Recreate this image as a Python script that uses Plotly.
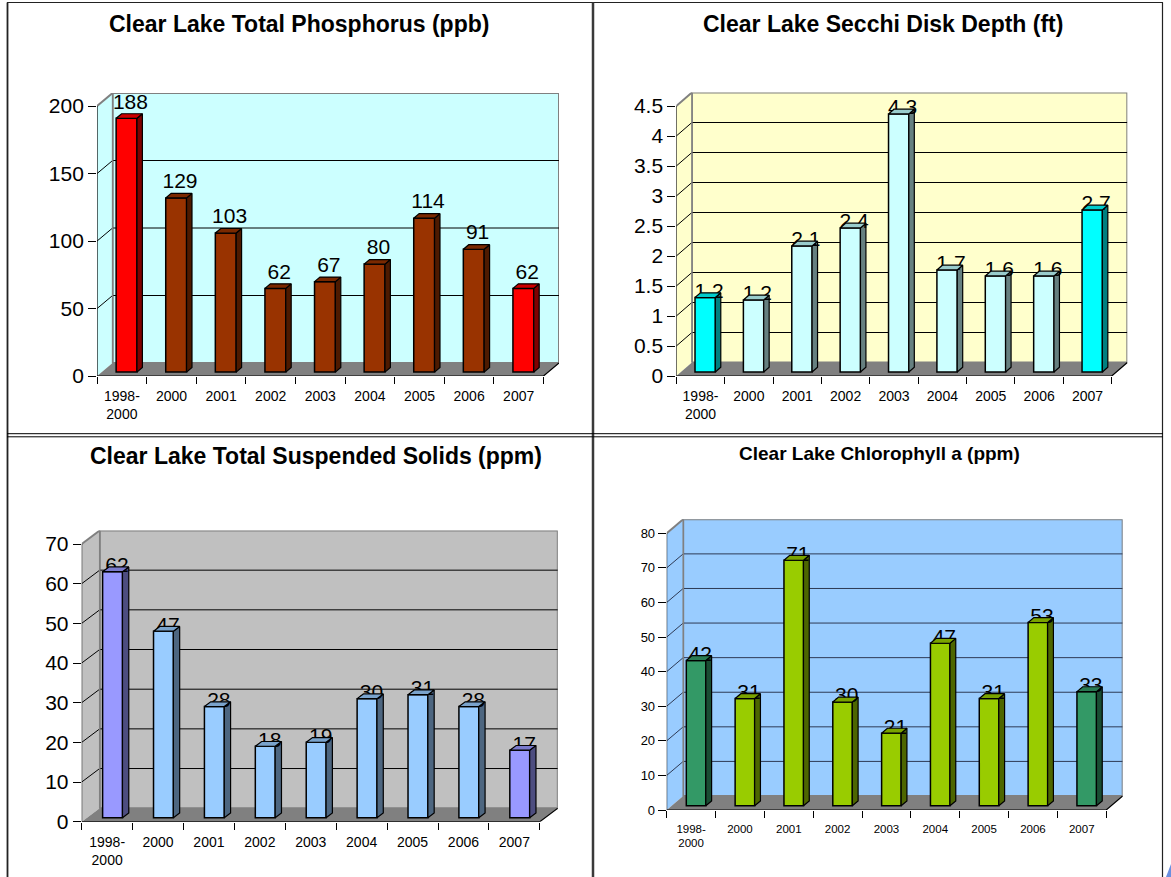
import plotly.graph_objects as go

W, H = 1171, 877      # reference frame (all paper fractions are relative to this)
FIG_H = 888           # rendered page height that the photographer maps onto 877 rows

# ---------------- data ----------------
categories = ["1998-<br>2000", "2000", "2001", "2002", "2003", "2004", "2005", "2006", "2007"]
highlight = [True, False, False, False, False, False, False, False, True]

phosphorus = [188, 129, 103, 62, 67, 80, 114, 91, 62]
secchi = [1.24, 1.2, 2.1, 2.4, 4.3, 1.7, 1.6, 1.6, 2.7]
solids = [62, 47, 28, 18, 19, 30, 31, 28, 17]
chlorophyll = [42, 31, 71, 30, 21, 47, 31, 53, 33]

phos_ticks = [0, 50, 100, 150, 200]
secchi_ticks = [0, 0.5, 1, 1.5, 2, 2.5, 3, 3.5, 4, 4.5]
solids_ticks = [0, 10, 20, 30, 40, 50, 60, 70]
chl_ticks = [0, 10, 20, 30, 40, 50, 60, 70, 80]

titles = [
    "Clear Lake Total Phosphorus (ppb)",
    "Clear Lake Secchi Disk Depth (ft)",
    "Clear Lake Total Suspended Solids (ppm)",
    "Clear Lake Chlorophyll a (ppm)",
]

# ---------------- styles / geometry (pixels) ----------------
FONT = "Liberation Sans, Arial, sans-serif"
F0, F1 = 0.30, 0.65  # bar depth span within floor

panels = [
    dict(values=phosphorus, ticks=phos_ticks, fmt="{:.0f}", title=titles[0],
         left=97.1, catw=49.6, dx=15.5, y0=376.0, ytop=106.0, dy=13.0,
         wall="#CCFFFF", grid="#000000",
         front=("#993300", "#FF0000"), side=("#4D1A00", "#800000"), top=("#7A2900", "#CC0000"),
         barw=0.42, title_xy=(299, 24), title_size=23, ytick_size=21, xtick_size=14,
         label_size=21, label_pos="top center"),
    dict(values=secchi, ticks=secchi_ticks, fmt="{:.1f}", title=titles[1],
         left=676.3, catw=48.38, dx=15.6, y0=376.0, ytop=106.0, dy=13.5,
         wall="#FFFFCC", grid="#000000",
         front=("#CCFFFF", "#00FFFF"), side=("#668080", "#008080"), top=("#99CCCC", "#00CCCC"),
         barw=0.42, title_xy=(882.7, 24), title_size=23, ytick_size=21, xtick_size=14,
         label_size=21, label_pos="middle center"),
    dict(values=solids, ticks=solids_ticks, fmt="{:.0f}", title=titles[2],
         left=81.7, catw=50.9, dx=18.0, y0=821.7, ytop=544.0, dy=13.5,
         wall="#C0C0C0", grid="#000000",
         front=("#99CCFF", "#9999FF"), side=("#4D6680", "#4D4D80"), top=("#7AA3CC", "#7A7ACC"),
         barw=0.39, title_xy=(316, 455.7), title_size=23, ytick_size=21, xtick_size=14,
         label_size=21, label_pos="middle center"),
    dict(values=chlorophyll, ticks=chl_ticks, fmt="{:.0f}", title=titles[3],
         left=666.7, catw=48.83, dx=16.5, y0=810.0, ytop=533.3, dy=14.0,
         wall="#99CCFF", grid="#2E3A55",
         front=("#99CC00", "#339966"), side=("#4D6600", "#1A4D33"), top=("#7AA300", "#297A52"),
         barw=0.40, title_xy=(879.6, 453), title_size=19, ytick_size=13, xtick_size=11.5,
         label_size=21, label_pos="middle center"),
]

fig = go.Figure()
layout = dict(width=W - 16, height=FIG_H - 16, margin=dict(l=0, r=0, t=0, b=0),
              paper_bgcolor="white", plot_bgcolor="rgba(0,0,0,0)",
              showlegend=False, font=dict(family=FONT, color="black"))
shapes = []
annotations = []


def poly(pts):
    return "M " + " L ".join(f"{x},{y}" for x, y in pts) + " Z"


def line_path(pts):
    return "M " + " L ".join(f"{x},{y}" for x, y in pts)


for k, p in enumerate(panels, start=1):
    sfx = "" if k == 1 else str(k)
    xa, ya = "x" + sfx, "y" + sfx
    vals = p["values"]
    n = len(vals)
    ymax = p["ticks"][-1]
    ppu = (p["y0"] - p["ytop"]) / ymax
    dxu = p["dx"] / p["catw"]
    dyu = p["dy"] / ppu
    xl0, xr0 = -0.5, n - 0.5

    right_px = p["left"] + n * p["catw"] + p["dx"]
    top_px = p["ytop"] - p["dy"]
    layout["xaxis" + sfx] = dict(
        domain=[p["left"] / W, right_px / W], range=[xl0, xr0 + dxu], anchor=ya,
        tickmode="array", tickvals=list(range(n)), ticktext=categories,
        ticks="", showline=False, showgrid=False, zeroline=False, fixedrange=True,
        tickfont=dict(family=FONT, size=p["xtick_size"], color="black"),
        ticklabelstandoff=10,
        minor=dict(tickmode="array", tickvals=[i - 0.5 for i in range(n + 1)],
                   ticks="outside", ticklen=7, tickwidth=1, tickcolor="black", showgrid=False),
    )
    layout["yaxis" + sfx] = dict(
        domain=[1 - p["y0"] / H, 1 - top_px / H], range=[0, ymax + dyu], anchor=xa,
        tickmode="array", tickvals=p["ticks"], ticktext=[f"{t:g}" for t in p["ticks"]],
        ticks="outside", ticklen=8, tickwidth=1, tickcolor="black",
        showline=False, showgrid=False, zeroline=False, fixedrange=True,
        tickfont=dict(family=FONT, size=p["ytick_size"], color="black"),
    )

    base = dict(xref=xa, yref=ya, layer="below")
    # back wall
    shapes.append(dict(type="rect", x0=xl0 + dxu, x1=xr0 + dxu, y0=dyu, y1=ymax + dyu,
                       fillcolor=p["wall"], line=dict(color="#808080", width=2), **base))
    # left wall
    shapes.append(dict(type="path", path=poly([(xl0, 0), (xl0, ymax), (xl0 + dxu, ymax + dyu), (xl0 + dxu, dyu)]),
                       fillcolor=p["wall"], line=dict(width=0), **base))
    # floor
    shapes.append(dict(type="path", path=poly([(xl0, 0), (xr0, 0), (xr0 + dxu, dyu), (xl0 + dxu, dyu)]),
                       fillcolor="#808080", line=dict(width=0), **base))
    # gridlines
    for t in p["ticks"][1:-1]:
        shapes.append(dict(type="path", path=line_path([(xl0, t), (xl0 + dxu, t + dyu), (xr0 + dxu, t + dyu)]),
                           line=dict(color=p["grid"], width=1), **base))
    # wall edges
    shapes.append(dict(type="path", path=line_path([(xl0, ymax), (xl0 + dxu, ymax + dyu)]),
                       line=dict(color="#808080", width=2), **base))
    shapes.append(dict(type="path", path=line_path([(xl0 + dxu, dyu), (xl0 + dxu, ymax + dyu)]),
                       line=dict(color="#808080", width=1.5), **base))
    # front axes lines
    shapes.append(dict(type="path", path=line_path([(xl0, 0), (xl0, ymax)]),
                       line=dict(color="black", width=1), **base))
    shapes.append(dict(type="path", path=line_path([(xl0, 0), (xr0, 0), (xr0 + dxu, dyu)]),
                       line=dict(color="black", width=1.2), **base))

    # front faces (bars)
    bw = p["barw"]
    fig.add_trace(go.Bar(
        x=[i + F0 * dxu for i in range(n)], y=vals, base=F0 * dyu, width=bw,
        marker=dict(color=[p["front"][1] if h else p["front"][0] for h in highlight],
                    line=dict(color="black", width=1.5)),
        xaxis=xa, yaxis=ya, hoverinfo="skip", showlegend=False))

    def faces(kind, hl):
        xs, ys = [], []
        for i, v in enumerate(vals):
            if highlight[i] != hl:
                continue
            xl, xr = i - bw / 2, i + bw / 2
            if kind == "side":
                pts = [(xr + F0 * dxu, F0 * dyu), (xr + F1 * dxu, F1 * dyu),
                       (xr + F1 * dxu, v + F1 * dyu), (xr + F0 * dxu, v + F0 * dyu)]
            else:
                pts = [(xl + F0 * dxu, v + F0 * dyu), (xr + F0 * dxu, v + F0 * dyu),
                       (xr + F1 * dxu, v + F1 * dyu), (xl + F1 * dxu, v + F1 * dyu)]
            pts.append(pts[0])
            for a, b in pts:
                xs.append(a)
                ys.append(b)
            xs.append(None)
            ys.append(None)
        return xs, ys

    for hl in (False, True):
        xs, ys = faces("side", hl)
        fig.add_trace(go.Scatter(x=xs, y=ys, mode="lines", fill="toself",
                                 fillcolor=p["side"][1 if hl else 0],
                                 line=dict(color="black", width=1.2),
                                 xaxis=xa, yaxis=ya, hoverinfo="skip", showlegend=False))

    # value labels (drawn before top faces so the tops overlap them)
    fig.add_trace(go.Scatter(
        x=[i + 0.55 * dxu for i in range(n)], y=[v + F1 * dyu for v in vals],
        mode="text", text=[p["fmt"].format(v) for v in vals], textposition=p["label_pos"],
        textfont=dict(family=FONT, size=p["label_size"], color="black"),
        xaxis=xa, yaxis=ya, hoverinfo="skip", showlegend=False, cliponaxis=False))

    for hl in (False, True):
        xs, ys = faces("top", hl)
        fig.add_trace(go.Scatter(x=xs, y=ys, mode="lines", fill="toself",
                                 fillcolor=p["top"][1 if hl else 0],
                                 line=dict(color="black", width=1.2),
                                 xaxis=xa, yaxis=ya, hoverinfo="skip", showlegend=False))

    tx, ty = p["title_xy"]
    annotations.append(dict(xref="paper", yref="paper", x=tx / W, y=1 - ty / H,
                            xanchor="center", yanchor="middle", showarrow=False,
                            text="<b>" + p["title"] + "</b>",
                            font=dict(family=FONT, size=p["title_size"], color="black")))

# page/table borders
def pline(x0, y0, x1, y1, color="black", width=1):
    return dict(type="line", xref="paper", yref="paper", x0=x0 / W, y0=1 - y0 / H,
                x1=x1 / W, y1=1 - y1 / H, line=dict(color=color, width=width), layer="above")

shapes += [
    pline(7.5, 2.5, 7.5, H, "#222222", 1.8),
    pline(7, 2.5, 1163, 2.5, "#222222", 1.2),
    pline(593, 2.5, 593, H, "#3A3A3A", 2.5),
    pline(1162.5, 2.5, 1162.5, H, "#222222", 1.2),
    pline(7, 433.7, 1163, 433.7, "black", 1),
    pline(7, 436.8, 1163, 436.8, "black", 1),
    dict(type="path", xref="paper", yref="paper",
         path=f"M {1166 / W},0 L 1, {1 - 864 / H} L 1,0 Z",
         fillcolor="#6A8FE0", line=dict(width=0), layer="above"),
]

layout["shapes"] = shapes
layout["annotations"] = annotations
fig.update_layout(**layout)
fig.write_html(
    "out.html",
    config={"displayModeBar": False, "staticPlot": True},
    post_script=(
        "var gd=document.getElementById('{plot_id}');"
        "document.documentElement.style.margin='0px';"
        "document.body.style.margin='0px';"
        "document.documentElement.style.overflow='hidden';"
        "document.body.style.overflow='hidden';"
        "gd.style.position='fixed';gd.style.left='0px';gd.style.top='0px';"
        "Plotly.relayout(gd, {width: %d, height: %d});" % (W, FIG_H)
    ),
)
